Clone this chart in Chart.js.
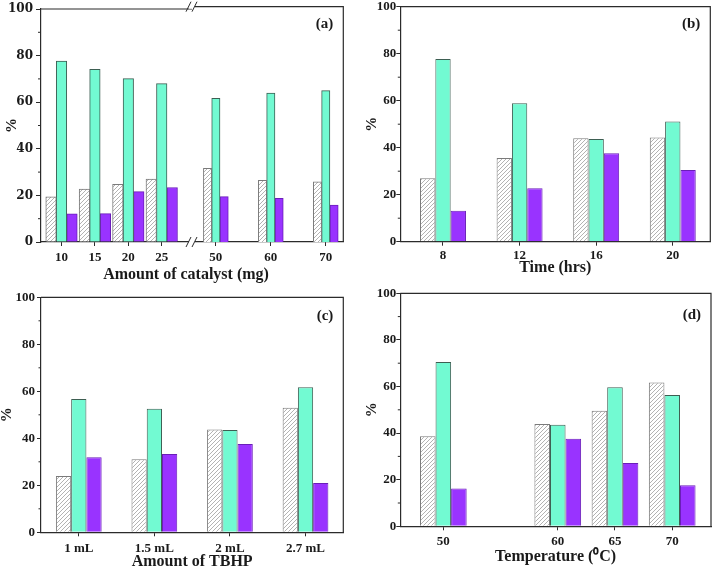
<!DOCTYPE html>
<html><head><meta charset="utf-8">
<script src="https://cdn.jsdelivr.net/npm/chart.js@4.4.0/dist/chart.umd.min.js"></script>
<style>
html,body{margin:0;padding:0;background:#fff;width:714px;height:568px;overflow:hidden}
.p{position:absolute;width:357px;height:284px}
</style></head><body>
<div class="p" style="left:0;top:0"><canvas id="ca1"></canvas></div>
<div class="p" style="left:0;top:0"><canvas id="ca2"></canvas></div>
<div class="p" style="left:357px;top:0"><canvas id="cb"></canvas></div>
<div class="p" style="left:0;top:284px"><canvas id="cc"></canvas></div>
<div class="p" style="left:357px;top:284px"><canvas id="cd"></canvas></div>
<script>
// ---- Panel (a): amount of catalyst (mg), broken axis ----
const catalystLow = [10, 15, 20, 25];
const catalystHigh = [50, 60, 70];
const aConvLow = [19.4, 22.7, 24.8, 27.0];
const aSelALow = [77.6, 74.1, 70.1, 68.0];
const aSelBLow = [12.1, 12.2, 21.6, 23.4];
const aConvHigh = [31.3, 26.2, 25.6];
const aSelAHigh = [61.1, 63.3, 64.3];
const aSelBHigh = [19.3, 18.6, 15.7];
// ---- Panel (b): time (hrs) ----
const timeHrs = [8, 12, 16, 20];
const bConv = [27.0, 35.6, 44.0, 44.3];
const bSelA = [77.7, 58.9, 43.7, 51.2];
const bSelB = [13.2, 22.7, 37.6, 30.5];
// ---- Panel (c): amount of TBHP ----
const tbhpLabels = ['1 mL', '1.5 mL', '2 mL', '2.7 mL'];
const cConv = [24.0, 31.1, 43.7, 53.0];
const cSelA = [56.7, 52.6, 43.5, 61.7];
const cSelB = [31.9, 33.3, 37.6, 21.0];
// ---- Panel (d): temperature (°C) ----
const tempC = [50, 60, 65, 70];
const dConv = [38.6, 43.9, 49.6, 61.7];
const dSelA = [70.5, 43.6, 59.7, 56.4];
const dSelB = [16.2, 37.6, 27.2, 17.6];
// ---- shared y ticks ----
const yTicks = [0, 20, 40, 60, 80, 100];

const SERIF = "'Liberation Serif','Times New Roman',serif";
const TXT = '#1a1a1a';
const AX = '#2b2b2b';
const GREEN = '#72FAD2';
const PURPLE = '#9933FF';

function makeHatch() {
  const c = document.createElement('canvas');
  c.width = 4; c.height = 4;
  const g = c.getContext('2d');
  g.fillStyle = '#fff'; g.fillRect(0, 0, 4, 4);
  g.strokeStyle = '#a0a0a0'; g.lineWidth = 0.8;
  g.beginPath();
  g.moveTo(0, 4); g.lineTo(4, 0);
  g.moveTo(-1, 1); g.lineTo(1, -1);
  g.moveTo(3, 5); g.lineTo(5, 3);
  g.stroke();
  return g.createPattern(c, 'repeat');
}
const HATCH = makeHatch();

function series(xs, ys) { return xs.map((x, i) => ({ x: x, y: ys[i] })); }

function trio(xs, conv, selA, selB, extra) {
  const base = Object.assign({ borderWidth: 1, barPercentage: 1 }, extra);
  const ds = [
    { label: 'Conversion', data: xs ? series(xs, conv) : conv, backgroundColor: HATCH, borderColor: '#7a7a7a' },
    { label: 'Selectivity 1', data: xs ? series(xs, selA) : selA, backgroundColor: GREEN, borderColor: '#3d5e52' },
    { label: 'Selectivity 2', data: xs ? series(xs, selB) : selB, backgroundColor: PURPLE, borderColor: '#6a1fb8' }
  ];
  return ds.map(d => Object.assign(d, base));
}

const minorVals = yTicks.slice(1).map((v, i) => (v + yTicks[i]) / 2);

const framePlugin = {
  id: 'frame',
  afterDraw(chart, args, o) {
    const { ctx, chartArea: a, scales } = chart;
    ctx.save();
    ctx.strokeStyle = AX; ctx.lineWidth = 1.2;
    ctx.beginPath();
    ctx.moveTo(a.left, a.top); ctx.lineTo(a.right, a.top);
    if (o.right) { ctx.lineTo(a.right, a.bottom); }
    ctx.stroke();
    ctx.lineWidth = 1;
    if (o.minorLen) {
      minorVals.forEach(v => {
        const py = scales.y.getPixelForValue(v);
        ctx.beginPath(); ctx.moveTo(a.left - o.minorLen, py); ctx.lineTo(a.left, py); ctx.stroke();
      });
    }
    if (o.breakLeft) {
      const bx = a.left;
      [a.top, a.bottom].forEach(yy => {
        ctx.fillStyle = '#fff';
        ctx.fillRect(bx - 3, yy - 2, 6, 4);
        ctx.strokeStyle = AX; ctx.lineWidth = 1;
        ctx.beginPath();
        ctx.moveTo(bx - 6, yy + 5); ctx.lineTo(bx - 1, yy - 5);
        ctx.moveTo(bx + 0, yy + 5); ctx.lineTo(bx + 5, yy - 5);
        ctx.stroke();
      });
    }
    ctx.fillStyle = TXT; ctx.textBaseline = 'middle';
    if (o.label) {
      ctx.font = 'bold 15px ' + SERIF;
      ctx.textAlign = 'right';
      ctx.fillText(o.label, a.right - o.labelDx, a.top + o.labelDy);
    }
    if (o.text) {
      ctx.font = 'bold 16px ' + SERIF;
      ctx.textAlign = 'center';
      ctx.fillText(o.text.str, o.text.x, o.text.y);
    }
    ctx.restore();
  }
};

function yScale(p) {
  return {
    type: 'linear', position: 'left', min: 0, max: 100,
    afterBuildTicks: s => { s.ticks = yTicks.map(v => ({ value: v })); },
    ticks: { font: p.yFont || { family: SERIF, weight: 'bold', size: 13, lineHeight: 1 }, color: TXT, padding: p.yTickPad },
    grid: { display: true, drawOnChartArea: false, drawTicks: true, tickLength: p.yTickLen, color: AX, lineWidth: 1 },
    border: { display: true, color: AX, width: 1.2 },
    title: { display: true, text: '%', color: TXT, font: { family: SERIF, weight: 'bold', size: 15, lineHeight: 1 }, padding: { top: p.yTitlePad, bottom: 0 } },
    afterFit: s => { s.width = p.yWidth; }
  };
}

function xCommon(p, title) {
  return {
    position: 'bottom', offset: p.offset || false,
    ticks: { font: { family: SERIF, weight: 'bold', size: 13 }, color: TXT, padding: p.xTickPad, autoSkip: false, maxRotation: 0 },
    grid: { display: true, drawOnChartArea: false, drawTicks: true, tickLength: 4, color: AX, lineWidth: 1, offset: false },
    border: { display: true, color: AX, width: 1.2 },
    title: { display: !!title, text: title || '', color: TXT, font: { family: SERIF, weight: 'bold', size: 16, lineHeight: p.xTitleLH || 1 }, padding: { top: 0, bottom: p.xTitlePad || 0 } },
    afterFit: s => { s.height = p.xHeight; }
  };
}

function makeChart(id, datasets, scales, p, labels) {
  return new Chart(document.getElementById(id), {
    type: 'bar',
    data: labels ? { labels: labels, datasets: datasets } : { datasets: datasets },
    options: {
      responsive: true, maintainAspectRatio: false, animation: false,
      layout: { padding: p.pad },
      plugins: { legend: { display: false }, tooltip: { enabled: false }, frame: p.frame },
      scales: scales
    },
    plugins: [framePlugin]
  });
}

// ---------- Panel (a): two overlaid halves sharing the y range ----------
{
  // left half (10-25 mg)
  const p = { pad: { left: 0, top: 6.7, right: 165, bottom: 0 }, yWidth: 41, xHeight: 42, yTickPad: 3, yTickLen: 5,
    yTitlePad: 4.5, xTickPad: 3.5,
    yFont: { family: "'DejaVu Serif',serif", weight: 'bold', size: 12, lineHeight: 1 },
    frame: { minorLen: 3, right: false } };
  const x = Object.assign(xCommon(p, null), {
    type: 'linear', min: 6.93, max: 29.53, bounds: 'data',
    afterBuildTicks: s => { s.ticks = catalystLow.map(v => ({ value: v })); }
  });
  const ds = trio(catalystLow, aConvLow, aSelALow, aSelBLow, { barThickness: 10.5 });
  makeChart('ca1', ds, { x: x, y: yScale(p) }, p);
}
{
  // right half (50-70 mg)
  const p = { pad: { left: 192, top: 6.7, right: 13.7, bottom: 0 }, xHeight: 42, xTickPad: 3.5,
    frame: { right: true, breakLeft: true, label: '(a)', labelDx: 10, labelDy: 17,
      text: { str: 'Amount of catalyst (mg)', x: 186, y: 274.5 } } };
  const x = Object.assign(xCommon(p, null), {
    type: 'linear', min: 45.66, max: 73.19, bounds: 'data',
    afterBuildTicks: s => { s.ticks = catalystHigh.map(v => ({ value: v })); }
  });
  const y = { type: 'linear', display: false, min: 0, max: 100 };
  const ds = trio(catalystHigh, aConvHigh, aSelAHigh, aSelBHigh, { barThickness: 8.3 });
  makeChart('ca2', ds, { x: x, y: y }, p);
}

// ---------- Panel (b) ----------
{
  const p = { pad: { left: 0, top: 6.7, right: 3.7, bottom: 0 }, yWidth: 43.3, xHeight: 42.3, yTickPad: 0, yTickLen: 4,
    yTitlePad: 7.2, xTickPad: 2.5, xTitlePad: 8.5,
    frame: { minorLen: 2.5, right: true, label: '(b)', labelDx: 10, labelDy: 17 } };
  const x = Object.assign(xCommon(p, 'Time (hrs)'), {
    type: 'linear', min: 5.77, max: 21.96, bounds: 'data',
    afterBuildTicks: s => { s.ticks = timeHrs.map(v => ({ value: v })); }
  });
  const ds = trio(timeHrs, bConv, bSelA, bSelB, { categoryPercentage: 0.6 });
  makeChart('cb', ds, { x: x, y: yScale(p) }, p);
}

// ---------- Panel (c) ----------
{
  const p = { pad: { left: 0, top: 13.3, right: 13.7, bottom: 0 }, yWidth: 41, xHeight: 35.7, yTickPad: 2, yTickLen: 4,
    yTitlePad: 0, xTickPad: 4.9, xTitlePad: 0, xTitleLH: 0.75, offset: true,
    frame: { minorLen: 2.5, right: true, label: '(c)', labelDx: 10, labelDy: 18.5 } };
  const x = Object.assign(xCommon(p, 'Amount of TBHP'), { type: 'category' });
  const ds = trio(null, cConv, cSelA, cSelB, { categoryPercentage: 0.605 });
  makeChart('cc', ds, { x: x, y: yScale(p) }, p, tbhpLabels);
}

// ---------- Panel (d) ----------
{
  const p = { pad: { left: 0, top: 9.3, right: 3, bottom: 0 }, yWidth: 43.3, xHeight: 41.7, yTickPad: 0, yTickLen: 4,
    yTitlePad: 7.2, xTickPad: 3.4, xTitlePad: 3.5,
    frame: { minorLen: 2.5, right: true, label: '(d)', labelDx: 10, labelDy: 22 } };
  const x = Object.assign(xCommon(p, 'Temperature (\u2070C)'), {
    type: 'linear', min: 46.24, max: 73.39, bounds: 'data',
    afterBuildTicks: s => { s.ticks = tempC.map(v => ({ value: v })); }
  });
  const ds = trio(tempC, dConv, dSelA, dSelB, { categoryPercentage: 0.816 });
  makeChart('cd', ds, { x: x, y: yScale(p) }, p);
}
</script>
</body></html>
